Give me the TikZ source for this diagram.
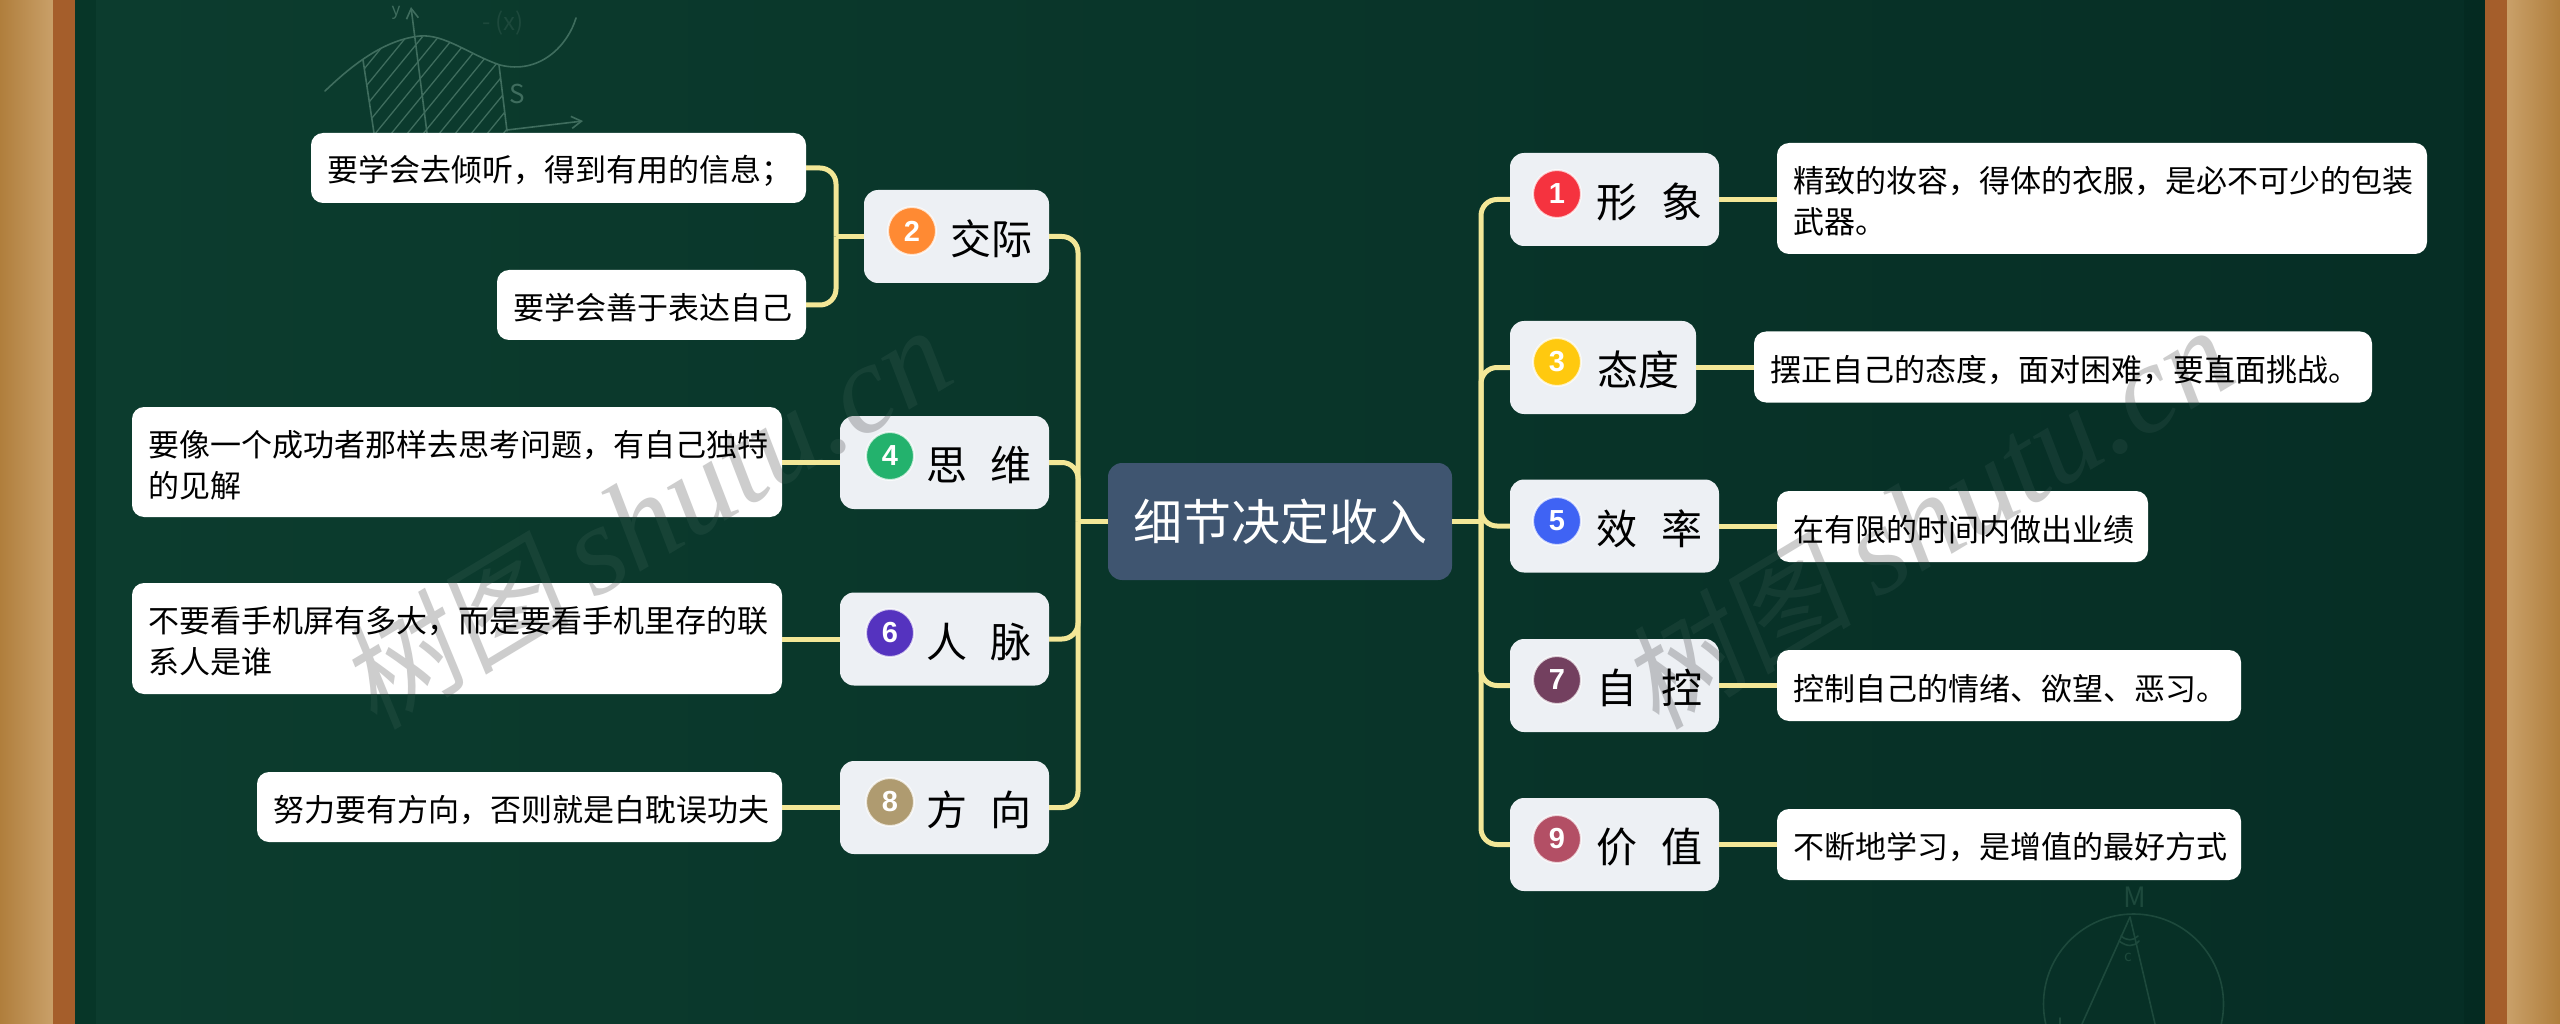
\documentclass[tikz,border=0pt]{standalone}
\usepackage{fontspec}
\setmainfont{Noto Sans CJK SC}
\newfontfamily\digitfont{Liberation Sans}
\newfontfamily\wmlat{Liberation Serif}
\newfontfamily\wmcjk[FakeSlant=0.15]{Noto Sans CJK SC}
\usetikzlibrary{arrows.meta}
\definecolor{boxc}{HTML}{EDF0F4}
\definecolor{rootc}{HTML}{3F5570}
\definecolor{connc}{HTML}{F3E797}
\definecolor{bgl}{HTML}{0C3C2E}
\definecolor{bgr}{HTML}{062E25}
\definecolor{bandl}{HTML}{073628}
\definecolor{bandr}{HTML}{042A21}
\definecolor{woodd}{HTML}{B07E3C}
\definecolor{woodl}{HTML}{C9A069}
\definecolor{brownc}{HTML}{A55E2B}
\definecolor{chalka}{HTML}{3F6D5E}
\definecolor{chalkb}{HTML}{1D493C}
\definecolor{wmc}{HTML}{CDCDCD}
\tikzset{
  leaf/.style={fill=white,rounded corners=12pt,inner xsep=16pt,inner ysep=0pt,align=left,
    font=\fontsize{31}{41}\selectfont,text=black,execute at begin node={\rule{0pt}{32pt}}},
  branch/.style={fill=boxc,rounded corners=14pt,inner xsep=17pt,inner ysep=0pt,align=right,
    minimum height=93pt,font=\fontsize{41}{48}\selectfont,text=black,execute at begin node={\rule{0pt}{40pt}}},
  rootbox/.style={fill=rootc,rounded corners=14pt,inner sep=0pt,minimum width=344pt,minimum height=117pt,
    font=\fontsize{49}{56}\selectfont,text=white},
  icon/.style={circle,draw=white,draw opacity=.75,line width=2pt,minimum size=48pt,inner sep=0pt,
    font=\digitfont\bfseries\fontsize{29}{29}\selectfont,text=white},
  conn/.style={draw=connc,line width=5pt},
  elbow/.style={conn,rounded corners=16pt},
  chalk/.style={draw=chalka,line width=1.6pt,line cap=round,line join=round},
  chalkfar/.style={draw=chalkb,line width=1.6pt,line cap=round,line join=round},
  wmark/.style={rotate=31,inner sep=0pt,font=\fontsize{116}{130}\selectfont},
}
\newcommand\wmtext{{\wmcjk 树图}\hspace{24pt}{\wmlat\itshape\fontsize{127}{140}\selectfont shutu.cn}}
\begin{document}
\begin{tikzpicture}[x=1pt,y=-1pt]
\useasboundingbox (0,0) rectangle (2560,1024);
% board and frame
\shade[left color=bgl,right color=bgr] (96,0) rectangle (2464,1024);
\shade[left color=woodd,right color=woodl] (0,0) rectangle (53,1024);
\shade[left color=woodl,right color=woodd] (2507,0) rectangle (2560,1024);
\fill[brownc] (53,0) rectangle (75,1024);
\fill[brownc] (2485,0) rectangle (2507,1024);
\fill[bandl] (75,0) rectangle (96,1024);
\fill[bandr] (2464,0) rectangle (2485,1024);
% chalk sketch, top left
\begin{scope}
  \clip (363,60) .. controls (380,48) and (398,38) .. (413,37)
        .. controls (440,33) and (465,50) .. (499,65)
        -- (507,140) -- (375,140) -- cycle;
  \foreach \hx in {290,306,...,500}{
    \draw[chalk,line width=1.3pt] (\hx,140) -- (\hx+90,30);
  }
\end{scope}
\draw[chalk] (325,91) .. controls (345,72) and (380,40) .. (420,36)
   .. controls (445,34) and (470,55) .. (500,65)
   .. controls (540,75) and (568,45) .. (576,18);
\draw[chalk,-{Straight Barb[length=10pt,width=12pt]}] (427,133) -- (411,7);
\draw[chalk] (363,60) -- (374,133);
\draw[chalk] (499,65) -- (507,131);
\draw[chalk,-{Straight Barb[length=10pt,width=12pt]}] (507,130) -- (583,121);
\node[inner sep=0pt,text=chalka,font=\fontsize{17}{17}\selectfont] (sky) at (396,13) {y};
\node[inner sep=0pt,text=chalka,font=\fontsize{26}{26}\selectfont] (sks) at (517,94) {S};
\node[inner sep=0pt,text=chalkb,font=\fontsize{24}{24}\selectfont] (skf) at (503,23) {- (x)};
% chalk sketch, bottom right
\draw[chalkfar] (2133.5,1004) circle [radius=90pt];
\draw[chalkfar] (2130,917) -- (2082,1024);
\draw[chalkfar] (2130,917) -- (2155,1024);
\draw[chalkfar] (2121,936) .. controls (2127,941) and (2133,941) .. (2138,936);
\draw[chalkfar] (2119,941) .. controls (2127,947) and (2134,947) .. (2139,941);
\draw[chalkfar] (2060,1018) -- (2060,1024);
\node[inner sep=0pt,text=chalkb,font=\fontsize{15}{15}\selectfont] (skc) at (2128,957) {c};
\node[inner sep=0pt,text=chalkb,font=\fontsize{28}{28}\selectfont] (skm) at (2135,897) {M};
% watermark on the board
\node[wmark,text=white,text opacity=.05] (wma) at (645,518) {\wmtext};
\node[wmark,text=white,text opacity=.05] (wmb) at (1927,518) {\wmtext};
% nodes
\node[rootbox] (root) at (1280,521.5) {细节决定收入};
\node[branch,text width=151pt] (b2) at (956.5,236.5) {交际};
\node[branch,text width=175pt] (b4) at (944.5,462.5) {思\hspace{24pt}维};
\node[branch,text width=175pt] (b6) at (944.5,639) {人\hspace{24pt}脉};
\node[branch,text width=175pt] (b8) at (944.5,807.5) {方\hspace{24pt}向};
\node[branch,text width=175pt] (b1) at (1614.5,199.5) {形\hspace{24pt}象};
\node[branch,text width=152pt] (b3) at (1603,367.5) {态度};
\node[branch,text width=175pt] (b5) at (1614.5,526) {效\hspace{24pt}率};
\node[branch,text width=175pt] (b7) at (1614.5,685.5) {自\hspace{24pt}控};
\node[branch,text width=175pt] (b9) at (1614.5,844.5) {价\hspace{24pt}值};
\node[icon,fill={rgb,255:red,255;green,138;blue,51}] (i2) at (912,231) {2};
\node[icon,fill={rgb,255:red,35;green,178;blue,109}] (i4) at (890,456) {4};
\node[icon,fill={rgb,255:red,85;green,51;blue,191}] (i6) at (890,633) {6};
\node[icon,fill={rgb,255:red,175;green,155;blue,112}] (i8) at (890,802) {8};
\node[icon,fill={rgb,255:red,245;green,51;blue,63}] (i1) at (1557,194) {1};
\node[icon,fill={rgb,255:red,255;green,201;blue,15}] (i3) at (1557,362) {3};
\node[icon,fill={rgb,255:red,63;green,99;blue,244}] (i5) at (1557,521) {5};
\node[icon,fill={rgb,255:red,115;green,64;blue,95}] (i7) at (1557,680) {7};
\node[icon,fill={rgb,255:red,179;green,79;blue,101}] (i9) at (1557,839) {9};
\node[leaf,text width=463pt,minimum height=70pt] (l2a) at (558.5,168) {要学会去倾听，得到有用的信息；};
\node[leaf,text width=277pt,minimum height=70pt] (l2b) at (651.5,305) {要学会善于表达自己};
\node[leaf,text width=618pt,minimum height=110pt] (l4) at (457,462) {要像一个成功者那样去思考问题，有自己独特\\的见解};
\node[leaf,text width=618pt,minimum height=111pt] (l6) at (457,638.5) {不要看手机屏有多大，而是要看手机里存的联\\系人是谁};
\node[leaf,text width=493pt,minimum height=70pt] (l8) at (519.5,807) {努力要有方向，否则就是白耽误功夫};
\node[leaf,text width=618pt,minimum height=111pt] (r1) at (2102,198.5) {精致的妆容，得体的衣服，是必不可少的包装\\武器。};
\node[leaf,text width=586pt,minimum height=71pt] (r3) at (2063,367) {摆正自己的态度，面对困难，要直面挑战。};
\node[leaf,text width=339pt,minimum height=71pt] (r5) at (1962.5,526.5) {在有限的时间内做出业绩};
\node[leaf,text width=432pt,minimum height=71pt] (r7) at (2009,685.5) {控制自己的情绪、欲望、恶习。};
\node[leaf,text width=432pt,minimum height=71pt] (r9) at (2009,844.5) {不断地学习，是增值的最好方式};
% connectors
\coordinate (sl) at (1078,521.5);
\coordinate (sr) at (1481,521.5);
\coordinate (sa) at (836,236.5);
\draw[conn] (root.west) -- (sl);
\draw[conn] (root.east) -- (sr);
\draw[elbow] (sl) |- (b2.east);
\draw[elbow] (sl) |- (b4.east);
\draw[elbow] (sl) |- (b6.east);
\draw[elbow] (sl) |- (b8.east);
\draw[elbow] (sr) |- (b1.west);
\draw[elbow] (sr) |- (b3.west);
\draw[elbow] (sr) |- (b5.west);
\draw[elbow] (sr) |- (b7.west);
\draw[elbow] (sr) |- (b9.west);
\draw[conn] (b2.west) -- (sa);
\draw[elbow] (sa) |- (l2a.east);
\draw[elbow] (sa) |- (l2b.east);
\draw[conn] (b4.west) -- (b4.west -| l4.east);
\draw[conn] (b6.west) -- (b6.west -| l6.east);
\draw[conn] (b8.west) -- (b8.west -| l8.east);
\draw[conn] (b1.east) -- (b1.east -| r1.west);
\draw[conn] (b3.east) -- (b3.east -| r3.west);
\draw[conn] (b5.east) -- (b5.east -| r5.west);
\draw[conn] (b7.east) -- (b7.east -| r7.west);
\draw[conn] (b9.east) -- (b9.east -| r9.west);
% watermark over the boxes
\begin{scope}[blend mode=multiply]
  \clip[rounded corners=12pt]
    (l4.north west) rectangle (l4.south east)
    (l6.north west) rectangle (l6.south east)
    (b4.north west) rectangle (b4.south east)
    (b6.north west) rectangle (b6.south east)
    (r3.north west) rectangle (r3.south east)
    (r5.north west) rectangle (r5.south east)
    (b5.north west) rectangle (b5.south east)
    (b7.north west) rectangle (b7.south east);
  \node[wmark,text=wmc] (wmc1) at (645,518) {\wmtext};
  \node[wmark,text=wmc] (wmc2) at (1927,518) {\wmtext};
\end{scope}
\end{tikzpicture}
\end{document}
